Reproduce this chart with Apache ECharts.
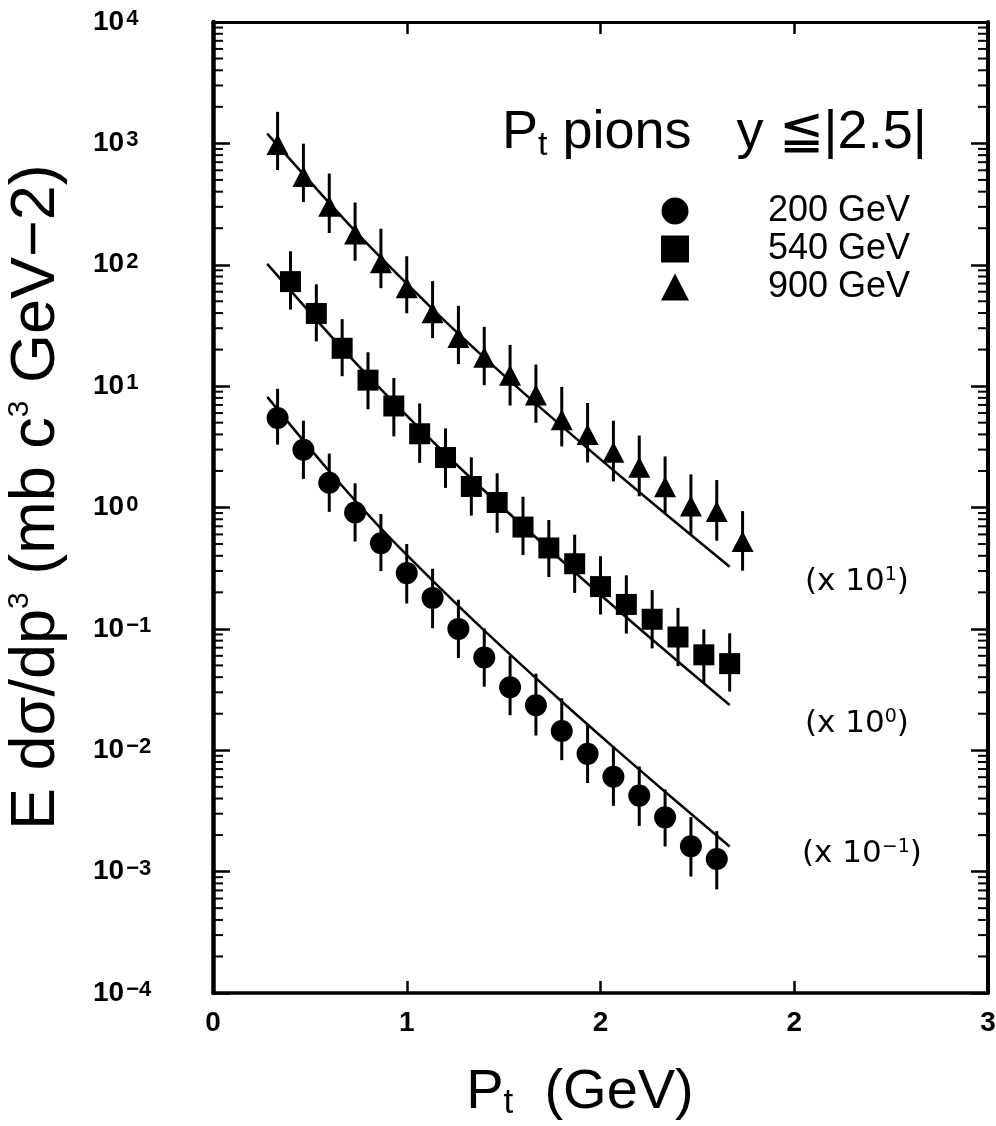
<!DOCTYPE html>
<html><head><meta charset="utf-8">
<script src="https://cdn.jsdelivr.net/npm/echarts@6/dist/echarts.min.js"></script>
<style>html,body{margin:0;padding:0;background:#fff}#c{width:996px;height:1126px}</style>
</head><body><div id="c"></div>
<script>
// ---- data (Pt in GeV, E d3sigma/dp3) ----
const ptCircle  = [0.25,0.35,0.45,0.55,0.65,0.75,0.85,0.95,1.05,1.15,1.25,1.35,1.45,1.55,1.65,1.75,1.85,1.95];
const valCircle = [5.47,2.99,1.60,0.911,0.508,0.288,0.180,0.100,0.058,0.033,0.0235,0.0144,0.00934,0.00605,0.00423,0.0028,0.00162,0.00127];
const upCircle  = [.24,.24,.24,.24,.24,.24,.24,.24,.24,.26,.26,.27,.24,.25,.24,.23,.24,.23];
const dnCircle  = [.22,.24,.24,.24,.23,.25,.25,.24,.24,.23,.25,.24,.24,.24,.25,.24,.25,.25];

const ptSquare  = [0.3,0.4,0.5,0.6,0.7,0.8,0.9,1.0,1.1,1.2,1.3,1.4,1.5,1.6,1.7,1.8,1.9,2.0];
const valSquare = [72.6,39.7,20.5,11.2,6.86,4.05,2.58,1.49,1.10,0.69,0.464,0.344,0.223,0.159,0.120,0.0857,0.0611,0.0517];
const upSquare  = [.25,.24,.24,.23,.23,.25,.24,.24,.24,.25,.23,.24,.25,.24,.24,.24,.21,.25];
const dnSquare  = [.23,.23,.23,.24,.25,.24,.25,.24,.25,.23,.24,.24,.23,.24,.24,.24,.24,.23];

const ptTriangle  = [0.25,0.35,0.45,0.55,0.65,0.75,0.85,0.95,1.05,1.15,1.25,1.35,1.45,1.55,1.65,1.75,1.85,1.95,2.05];
const valTriangle = [977,534,303,179,104,64.6,40.3,25.2,17.3,12.3,8.47,5.29,3.99,2.85,2.15,1.48,1.03,0.925,0.525];
const upTriangle  = [.27,.27,.27,.26,.28,.26,.26,.26,.25,.25,.25,.27,.26,.26,.26,.25,.26,.26,.25];
const dnTriangle  = [.21,.21,.22,.22,.21,.21,.21,.22,.23,.25,.23,.22,.23,.24,.24,.22,.23,.24,.24];

// fit curves
const fitCircleX   = [0.21,0.46,0.645,0.85,1.06,1.35,1.55,1.76,2.0];
const fitCircleY   = [8.15,1.877,0.689,0.250,0.0927,0.0252,0.0106,0.00436,0.00161];
const fitSquareX   = [0.21,0.506,0.795,1.04,1.406,1.70,2.0];
const fitSquareY   = [101.6,19.8,4.58,1.44,0.286,0.0817,0.0236];
const fitTriangleX = [0.21,0.555,0.852,1.046,1.245,1.54,1.751,2.0];
const fitTriangleY = [1202,184.5,42.7,17.5,7.31,2.11,0.887,0.325];

// axis tick labels
const xTickLabels = ['0','1','2','2','3'];
const minorMantissas = [2,3,4,5,6,7,8,9];
const decades = [-4,-3,-2,-1,0,1,2,3];
const seriesNames = ['200 GeV','540 GeV','900 GeV'];
const scaleLabels = ['1','0','\u22121'];

const FONT = 'Liberation Sans, Arial, sans-serif';
const minorVals = [];
decades.forEach(d => minorMantissas.forEach(m => minorVals.push([0, m * Math.pow(10, d)])));

function pairs(xs, ys) { return xs.map((x, i) => [x, ys[i]]); }
function errData(xs, ys, up, dn) {
  return xs.map((x, i) => [x, ys[i] * Math.pow(10, -dn[i]), ys[i] * Math.pow(10, up[i])]);
}
function errSeries(xs, ys, up, dn) {
  return {
    type: 'custom', silent: true, z: 2,
    data: errData(xs, ys, up, dn),
    encode: { x: 0, y: [1, 2] },
    renderItem: (params, api) => {
      const a = api.coord([api.value(0), api.value(1)]);
      const b = api.coord([api.value(0), api.value(2)]);
      return { type: 'line', shape: { x1: a[0], y1: a[1], x2: b[0], y2: b[1] },
               style: { stroke: '#000', lineWidth: 3 } };
    }
  };
}
function fitSeries(xs, ys) {
  return { type: 'line', silent: true, z: 1, data: pairs(xs, ys), showSymbol: false,
           smooth: 0.3, lineStyle: { color: '#000', width: 2.5 } };
}
function scatterSeries(name, symbol, size, xs, ys) {
  return { type: 'scatter', name, symbol, symbolSize: size, z: 3, data: pairs(xs, ys),
           itemStyle: { color: '#000', opacity: 1 } };
}

const chart = echarts.init(document.getElementById('c'), null, { renderer: 'canvas' });
const supStyle = { fontSize: 22, fontWeight: 'bold', fontFamily: FONT, color: '#000', verticalAlign: 'top', lineHeight: 22, padding: [0, 0, 0, 2] };
const tenStyle = { fontSize: 28, fontWeight: 'bold', fontFamily: FONT, color: '#000', lineHeight: 28 };

const scaleGraphics = scaleLabels.map((s, i) => ({
  type: 'text', left: [805, 805, 802][i], top: [566, 708, 838][i],
  style: { text: '(x 10{s|' + s + '})', fontSize: 31, fontFamily: 'DejaVu Sans', fill: '#000',
           rich: { s: { fontSize: 19, fontFamily: 'DejaVu Sans', fill: '#000', verticalAlign: 'top', lineHeight: 22 } } }
}));
const yTitle = {
  type: 'text', x: 68, y: 830, rotation: Math.PI / 2,
  style: { text: 'E d\u03c3/dp{s|3} (mb c{s|3} GeV\u22122)', fontSize: 63, fontFamily: FONT, fill: '#000',
           align: 'left', verticalAlign: 'bottom', lineHeight: 63,
           rich: { s: { fontSize: 30, fontFamily: FONT, fill: '#000', verticalAlign: 'top', lineHeight: 54 } } }
};

const option = {
  backgroundColor: '#fff',
  animation: false,
  grid: { left: 213, right: 8, top: 22, bottom: 133, outerBoundsMode: 'none', containLabel: false },
  title: {
    left: 497, top: 98,
    text: '{p|P}{s|t}{p| pions   y \u2266|2.5|}',
    textStyle: { fontWeight: 'normal', rich: {
      p: { fontSize: 54, fontWeight: 'normal', fontFamily: FONT, color: '#000', lineHeight: 60 },
      s: { fontSize: 34, fontWeight: 'normal', fontFamily: FONT, color: '#000', verticalAlign: 'bottom', lineHeight: 36 }
    } }
  },
  legend: {
    orient: 'vertical', left: 656, top: 188, itemWidth: 28, itemHeight: 27, itemGap: 2,
    data: seriesNames,
    formatter: n => '{g| }{t|' + n + '}',
    textStyle: { rich: {
      g: { width: 74 },
      t: { fontSize: 36, fontFamily: FONT, color: '#000', lineHeight: 38 }
    } },
    selectedMode: false
  },
  xAxis: [{
    type: 'value', min: 0, max: 3, interval: 0.75, position: 'bottom',
    axisLine: { show: true, onZero: false, lineStyle: { color: '#000', width: 3.5 } },
    axisTick: { show: true, inside: true, length: 12, lineStyle: { color: '#000', width: 2.5 } },
    axisLabel: { margin: 16, fontSize: 28, fontWeight: 'bold', fontFamily: FONT, color: '#000',
                 formatter: v => xTickLabels[Math.round(v / 0.75)] },
    splitLine: { show: false },
    name: 'P{s|t}  (GeV)', nameLocation: 'middle', nameGap: 72,
    nameTextStyle: { fontSize: 56, fontFamily: FONT, color: '#000', lineHeight: 56, padding: [0, 41, 0, 0],
      rich: { s: { fontSize: 35, fontFamily: FONT, color: '#000', verticalAlign: 'bottom', lineHeight: 36 } } }
  }, {
    type: 'value', min: 0, max: 3, interval: 0.75, position: 'top',
    axisLine: { show: true, onZero: false, lineStyle: { color: '#000', width: 3 } },
    axisTick: { show: true, inside: true, length: 12, lineStyle: { color: '#000', width: 2.5 } },
    axisLabel: { show: false }, splitLine: { show: false }
  }],
  yAxis: [{
    type: 'log', logBase: 10, min: 1e-4, max: 1e4, splitNumber: 8, position: 'left',
    axisLine: { show: true, onZero: false, lineStyle: { color: '#000', width: 4.5 } },
    axisTick: { show: true, inside: true, length: 17, lineStyle: { color: '#000', width: 2.5 } },
    axisLabel: { align: 'left', margin: 120, fontSize: 28,
      formatter: v => { const e = Math.round(Math.log10(v)); return '{a|10}{b|' + (e < 0 ? '\u2212' + (-e) : e) + '}'; },
      rich: { a: tenStyle, b: supStyle } },
    splitLine: { show: false }
  }, {
    type: 'log', logBase: 10, min: 1e-4, max: 1e4, splitNumber: 8, position: 'right',
    axisLine: { show: true, onZero: false, lineStyle: { color: '#000', width: 4 } },
    axisTick: { show: true, inside: true, length: 17, lineStyle: { color: '#000', width: 2.5 } },
    axisLabel: { show: false }, splitLine: { show: false }
  }],
  graphic: scaleGraphics.concat([yTitle]),
  series: [
    {
      type: 'custom', silent: true, z: 2, data: minorVals, encode: { x: 0, y: 1 },
      renderItem: (params, api) => {
        const cs = params.coordSys;
        const y = api.coord([0, api.value(1)])[1];
        return { type: 'group', children: [
          { type: 'line', shape: { x1: cs.x, y1: y, x2: cs.x + 10, y2: y }, style: { stroke: '#000', lineWidth: 2 } },
          { type: 'line', shape: { x1: cs.x + cs.width - 10, y1: y, x2: cs.x + cs.width, y2: y }, style: { stroke: '#000', lineWidth: 2 } }
        ] };
      }
    },
    fitSeries(fitCircleX, fitCircleY),
    fitSeries(fitSquareX, fitSquareY),
    fitSeries(fitTriangleX, fitTriangleY),
    errSeries(ptCircle, valCircle, upCircle, dnCircle),
    errSeries(ptSquare, valSquare, upSquare, dnSquare),
    errSeries(ptTriangle, valTriangle, upTriangle, dnTriangle),
    scatterSeries(seriesNames[0], 'circle', 22, ptCircle, valCircle),
    scatterSeries(seriesNames[1], 'rect', 21, ptSquare, valSquare),
    scatterSeries(seriesNames[2], 'triangle', [22, 21], ptTriangle, valTriangle)
  ]
};
chart.setOption(option);
</script></body></html>
